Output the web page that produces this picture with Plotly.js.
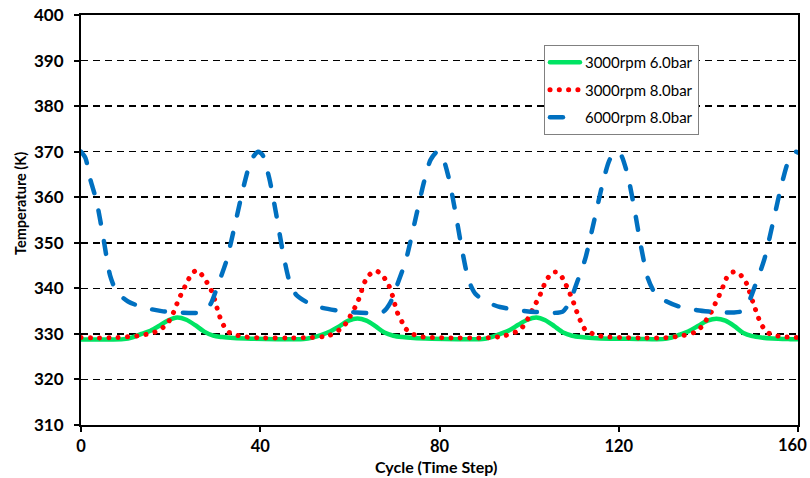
<!DOCTYPE html>
<html>
<head>
<meta charset="utf-8">
<script src="https://cdn.plot.ly/plotly-3.0.1.min.js"></script>
<style>
  html, body { margin: 0; padding: 0; background: #fff; }
  #chart { width: 810px; height: 478px; }
  .js-line { stroke-linecap: round; stroke-linejoin: round; }
</style>
</head>
<body>
<div id="chart"></div>
<script>
// ---- data ----
const seriesNames = ['3000rpm 6.0bar', '3000rpm 8.0bar', '6000rpm 8.0bar'];

const greenX = [0,5,9.5,11.5,13.5,15.5,17.5,19.5,21.5,23.5,
  25.5,27.5,29.5,31.5,34,38,44,49.7,51.7,53.7,
  55.7,57.7,59.7,61.7,63.7,65.7,67.7,69.7,71.7,74.2,
  78.2,84,89.6,91.6,93.6,95.6,97.6,99.6,101.6,103.6,
  105.6,107.6,109.6,111.6,114.1,118.1,124,129.8,131.8,133.8,
  135.8,137.8,139.8,141.8,143.8,145.8,147.8,149.8,151.8,154.3,
  158.3,160];
const greenY = [328.75,328.75,328.85,329.25,330.0,330.7,331.8,333.0,333.6,333.1,
  331.9,330.5,329.6,329.3,329.1,328.95,328.85,328.85,329.2,329.8,
  330.6,331.7,332.9,333.4,332.9,331.7,330.3,329.6,329.3,329.1,
  328.95,328.85,328.85,329.3,330.0,330.8,332.0,333.1,333.6,333.0,
  331.7,330.3,329.6,329.3,329.1,328.95,328.9,328.85,329.2,329.9,
  330.7,331.8,332.9,333.35,332.9,331.7,330.2,329.5,329.2,329.0,
  328.85,328.8];

const redX = [0,4,8,11,13,15,16.5,18.3,19.7,20.6,
  21.4,22.2,23.1,24,25,26,27,28.1,29.2,29.9,
  30.8,31.8,32.9,34.8,37,41,46,51,54,55.5,
  57.1,58.8,59.9,60.8,61.7,62.5,63.1,64.2,65.2,66.2,
  67.6,68.7,69.5,70.5,71.7,72.4,73.9,75.8,78,83,
  88,92,94.5,96.2,98,99.2,100.2,101.1,102.2,103.7,
  104.8,105.8,106.7,107.6,108.5,109.3,110.1,110.8,111.7,112.6,
  114.3,116.5,121,126,131,134,135.5,136.8,138.3,139.5,
  140.6,141.5,142.4,143.2,143.9,144.7,145.6,146.5,147.3,148.4,
  149.1,150.2,151,151.7,153.2,155.1,157.5,160];
const redY = [329.2,329.1,329.2,329.4,329.6,330,330.4,331.4,332.9,334.6,
  336.6,338.4,340.2,342,343.5,344,342.9,341.3,339.3,337.3,
  334.2,331.9,330.4,329.7,329.3,329.1,329.1,329.2,329.4,329.7,
  330.5,331.9,333.6,335.2,336.9,339.1,341,342.8,343.7,343.7,
  342.4,340.6,338.4,334.9,332.5,331.2,330,329.4,329.2,329.1,
  329.1,329.2,329.6,330.1,330.9,332.4,334.2,336,338,341.5,
  343.1,343.6,343.4,342,340.2,338.4,336.4,334.4,332.3,330.8,
  330,329.4,329.2,329.1,329.2,329.6,329.9,330.3,331.4,333,
  334.7,336.6,338.4,340.2,342,343.2,343.6,343.4,342.8,341.3,
  339.5,336.2,334,332.2,330.3,329.6,329.3,329.2];

const blueX = [0,1,2,3.5,5,6.5,8,10.5,14,18,
  22,25.5,27.5,29,30.5,32.5,34.5,36.5,38,39.5,
  40.5,42,43.5,45,46.5,48,50.5,53.5,57.5,61.5,
  65.5,67.5,69,70.5,72.5,74.5,76.5,78,79.5,80.5,
  82,83.5,85,86.5,88,90.5,93.5,97.5,101.5,105.5,
  107.5,109,110.5,112.5,114.5,116.5,118,119.5,120.5,122,
  123.5,125,126.5,128,130.5,133.5,137.5,141.5,145.5,147.5,
  149,150.5,152.5,154.5,156.5,158,159.5,160];
const blueY = [370,368.6,364.2,359,351,342.8,339.2,337.1,335.8,335,
  334.7,334.6,334.9,336.7,340.6,346.2,354.6,363.2,368.2,370,
  369.3,364.2,356.6,348.2,341.6,338.6,336.9,335.8,335.1,334.7,
  334.6,334.9,336.8,340.6,346.2,354.6,363.2,368.2,370,369.3,
  364.5,357,348.6,341.8,338.8,337,335.9,335.2,334.8,334.6,
  334.9,336.9,340.8,346.4,354.8,363.4,368.3,370,369.3,364.8,
  357.4,349,342.2,339.1,337.2,336,335.2,334.8,334.7,335,
  337,340.8,346.4,354.8,363.4,368.3,370,369.8];

const xTickVals = [0, 40, 80, 120, 160];
const xTickText = ['0', '40', '80', '120', '160'];
const yTickVals = [310, 320, 330, 340, 350, 360, 370, 380, 390, 400];

const xTitle = 'Cycle (Time Step)';
const yTitle = 'Temperature (K)';

// ---- traces ----
const traces = [
  {
    x: greenX, y: greenY, name: seriesNames[0], legendgroup: 'g1',
    type: 'scatter', mode: 'lines',
    line: { color: '#00E463', width: 4.5, shape: 'spline', smoothing: 0.8 }
  },
  {
    x: redX, y: redY, name: seriesNames[1], legendgroup: 'g2',
    type: 'scatter', mode: 'lines',
    line: { color: '#FF0000', width: 5, dash: '0.1px,9.2px', shape: 'spline', smoothing: 0.6 }
  },
  {
    x: blueX, y: blueY, name: seriesNames[2], legendgroup: 'g3',
    type: 'scatter', mode: 'lines',
    line: { color: '#0070C0', width: 4.5, dash: '13px,18px', shape: 'spline', smoothing: 0.7 }
  }
];

const fam = 'Lato, "Open Sans", sans-serif';
const yTickFont = { family: fam, size: 17, color: '#000', weight: 700 };
const xTickFont = { family: fam, size: 16.5, color: '#000', weight: 700 };

// last x tick label sits at the right edge: keep it whole by anchoring it right
const lastIdx = xTickVals.length - 1;
const axisTickText = xTickText.map((t, i) => (i === lastIdx ? '' : t));

const layout = {
  width: 810, height: 478,
  margin: { l: 81, r: 12, t: 15, b: 53 },
  paper_bgcolor: '#ffffff', plot_bgcolor: '#ffffff',
  font: { family: fam, color: '#000' },
  showlegend: true,
  hovermode: false,
  legend: {
    x: 0.6457, y: 0.927, xanchor: 'left', yanchor: 'top',
    bgcolor: '#ffffff', bordercolor: '#808080', borderwidth: 1,
    font: { family: fam, size: 15, color: '#000' },
    tracegroupgap: 5, traceorder: 'grouped'
  },
  xaxis: {
    range: [0, 160], tickmode: 'array', tickvals: xTickVals, ticktext: axisTickText,
    showline: true, linecolor: '#000', linewidth: 2, mirror: true,
    ticks: 'outside', ticklen: 5, tickwidth: 2, tickcolor: '#000',
    ticklabelstandoff: 0,
    showgrid: false, zeroline: false, tickfont: xTickFont
  },
  yaxis: {
    range: [310, 400], tickmode: 'array', tickvals: yTickVals,
    showline: true, linecolor: '#000', linewidth: 2, mirror: true,
    ticks: 'outside', ticklen: 5, tickwidth: 2, tickcolor: '#000',
    ticklabelstandoff: 7,
    showgrid: true, gridcolor: '#000', gridwidth: 1.5, griddash: '7px,5px',
    zeroline: false, tickfont: yTickFont
  },
  annotations: [
    {
      text: xTickText[lastIdx], xref: 'paper', yref: 'paper', x: 1.0155, y: -0.0488,
      xanchor: 'right', yanchor: 'middle', showarrow: false,
      font: xTickFont
    },
    {
      text: xTitle, xref: 'paper', yref: 'paper', x: 0.495, y: -0.1,
      xanchor: 'center', yanchor: 'middle', showarrow: false,
      font: { family: fam, size: 16, color: '#000', weight: 700 }
    },
    {
      text: yTitle, xref: 'paper', yref: 'paper', x: -0.085, y: 0.539,
      xanchor: 'center', yanchor: 'middle', showarrow: false, textangle: -90,
      font: { family: fam, size: 14.5, color: '#000', weight: 700 }
    }
  ]
};

Plotly.newPlot('chart', traces, layout, { staticPlot: true, displayModeBar: false });
</script>
</body>
</html>
